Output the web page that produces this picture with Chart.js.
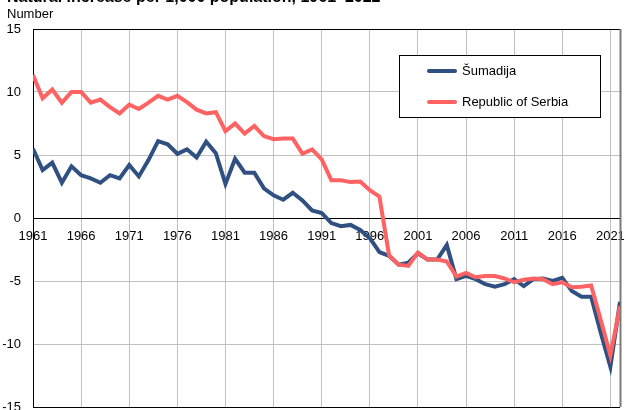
<!DOCTYPE html>
<html>
<head>
<meta charset="utf-8">
<script src="https://cdn.jsdelivr.net/npm/chart.js@4.4.0/dist/chart.umd.min.js"></script>
<style>
  html, body { margin: 0; padding: 0; background: #fff; }
  #wrap { width: 629px; height: 410px; position: relative; }
</style>
</head>
<body>
<div id="wrap"><canvas id="Graph"></canvas></div>
<script>
// years 1961-2022
years = [];
for (let yr = 1961; yr <= 2022; yr++) years.push(yr);

sumadija = [5.5, 3.8, 4.4, 2.8, 4.1, 3.4, 3.15, 2.8, 3.4, 3.15,
            4.2, 3.3, 4.6, 6.1, 5.85, 5.1, 5.45, 4.8, 6.05, 5.15,
            2.7, 4.7, 3.6, 3.6, 2.35, 1.8, 1.45, 2.0, 1.4, 0.6,
            0.4, -0.4, -0.65, -0.55, -0.95, -1.6, -2.7, -3.0, -3.7, -3.55,
            -2.8, -3.3, -3.3, -2.15, -4.85, -4.6, -4.85, -5.25, -5.45, -5.25,
            -4.85, -5.4, -4.85, -4.8, -5.0, -4.75, -5.8, -6.25, -6.25, -9.1,
            -11.8, -6.65];

serbia = [11.35, 9.5, 10.2, 9.15, 10.0, 10.0, 9.15, 9.4, 8.8, 8.3,
          9.0, 8.65, 9.15, 9.7, 9.4, 9.7, 9.2, 8.6, 8.3, 8.4,
          6.9, 7.5, 6.7, 7.3, 6.5, 6.25, 6.3, 6.3, 5.1, 5.45,
          4.65, 3.0, 3.0, 2.85, 2.9, 2.2, 1.7, -2.95, -3.7, -3.8,
          -2.75, -3.3, -3.3, -3.45, -4.65, -4.35, -4.7, -4.6, -4.6, -4.8,
          -5.1, -4.9, -4.8, -4.85, -5.25, -5.1, -5.5, -5.45, -5.35, -8.1,
          -10.9, -7.0];

xTicks = [1961, 1966, 1971, 1976, 1981, 1986, 1991, 1996, 2001, 2006, 2011, 2016, 2021];
yTicks = [-15, -10, -5, 0, 5, 10, 15];

titleText = "Natural increase per 1,000 population, 1961\u20132022";
unitText = "Number";

function toXY(vals) {
    return vals.map(function(v, i) { return {x: years[i], y: v}; });
}

var headerPlugin = {
    id: "header",
    afterDraw: function(chart) {
        var ctx = chart.ctx;
        ctx.save();
        ctx.fillStyle = "#000";
        ctx.font = "bold 16px 'Liberation Sans', Arial, sans-serif";
        ctx.textBaseline = "alphabetic";
        ctx.textAlign = "left";
        ctx.fillText(titleText, 7, 2);
        ctx.font = "13px 'Liberation Sans', Arial, sans-serif";
        ctx.textBaseline = "middle";
        ctx.fillText(unitText, 7, 14);
        ctx.restore();
    }
};

// dark right edge of the plot frame
var frameEdge = {
    id: "frameEdge",
    beforeDatasetsDraw: function(chart) {
        var a = chart.chartArea, ctx = chart.ctx;
        ctx.save();
        ctx.strokeStyle = "#7a7a7a";
        ctx.lineWidth = 2;
        ctx.beginPath();
        ctx.moveTo(a.right + 0.5, a.top);
        ctx.lineTo(a.right + 0.5, a.bottom);
        ctx.stroke();
        ctx.restore();
    }
};

var boxLegend = {
    id: "boxLegend",
    afterDatasetsDraw: function(chart) {
        var ctx = chart.ctx;
        var x0 = 399, y0 = 55, w = 201, h = 62;
        ctx.save();
        ctx.fillStyle = "#fff";
        ctx.fillRect(x0, y0, w, h);
        ctx.strokeStyle = "#000";
        ctx.lineWidth = 1;
        ctx.strokeRect(x0 + 0.5, y0 + 0.5, w, h);
        ctx.font = "13px 'Liberation Sans', Arial, sans-serif";
        ctx.textBaseline = "middle";
        ctx.textAlign = "left";
        var rows = [71, 102];
        chart.data.datasets.forEach(function(ds, i) {
            ctx.strokeStyle = ds.borderColor;
            ctx.lineWidth = 4;
            ctx.lineCap = "round";
            ctx.beginPath();
            ctx.moveTo(429, rows[i]);
            ctx.lineTo(455, rows[i]);
            ctx.stroke();
            ctx.fillStyle = "#000";
            ctx.fillText(ds.label, 462, rows[i]);
        });
        ctx.restore();
    }
};

var chart = new Chart("Graph", {
    type: "line",
    data: {
        datasets: [{
            label: "\u0160umadija",
            data: toXY(sumadija),
            borderColor: "#2f5080",
            backgroundColor: "#2f5080",
            borderWidth: 4,
            pointRadius: 0,
            tension: 0,
            fill: false,
            order: 1
        }, {
            label: "Republic of Serbia",
            data: toXY(serbia),
            borderColor: "#ff6262",
            backgroundColor: "#ff6262",
            borderWidth: 4,
            pointRadius: 0,
            tension: 0,
            fill: false,
            order: 0
        }]
    },
    options: {
        responsive: true,
        maintainAspectRatio: false,
        animation: false,
        layout: { padding: { left: 0, right: 9, top: 29, bottom: 3 } },
        plugins: {
            legend: { display: false },
            tooltip: { enabled: false }
        },
        scales: {
            x: {
                type: "linear",
                position: { y: 0 },
                min: 1961,
                max: 2022,
                afterBuildTicks: function(axis) {
                    axis.ticks = xTicks.map(function(v) { return {value: v}; });
                },
                afterFit: function(axis) {
                    axis.paddingBottom = 0;
                    axis.paddingTop = 0;
                    axis.paddingLeft = 0;
                    axis.paddingRight = 0;
                },
                ticks: {
                    autoSkip: false,
                    maxRotation: 0,
                    color: "#000",
                    padding: 11,
                    font: { family: "'Liberation Sans', Arial, sans-serif", size: 13 },
                    callback: function(v) { return String(v); }
                },
                grid: { color: "#c0c0c0", lineWidth: 1, drawTicks: false },
                border: { color: "#000", width: 1 }
            },
            y: {
                min: -15,
                max: 15,
                afterBuildTicks: function(axis) {
                    axis.ticks = yTicks.map(function(v) { return {value: v}; });
                },
                afterFit: function(axis) {
                    axis.width = 33;
                    axis.paddingBottom = 0;
                    axis.paddingTop = 0;
                },
                ticks: {
                    color: "#000",
                    padding: 12,
                    font: { family: "'Liberation Sans', Arial, sans-serif", size: 13 }
                },
                grid: {
                    color: function(c) {
                        return (c.tick && Math.abs(c.tick.value) === 15) ? "#000" : "#c0c0c0";
                    },
                    lineWidth: 1,
                    drawTicks: false
                },
                border: { color: "#000", width: 1 }
            }
        }
    },
    plugins: [headerPlugin, frameEdge, boxLegend]
});
</script>
</body>
</html>
